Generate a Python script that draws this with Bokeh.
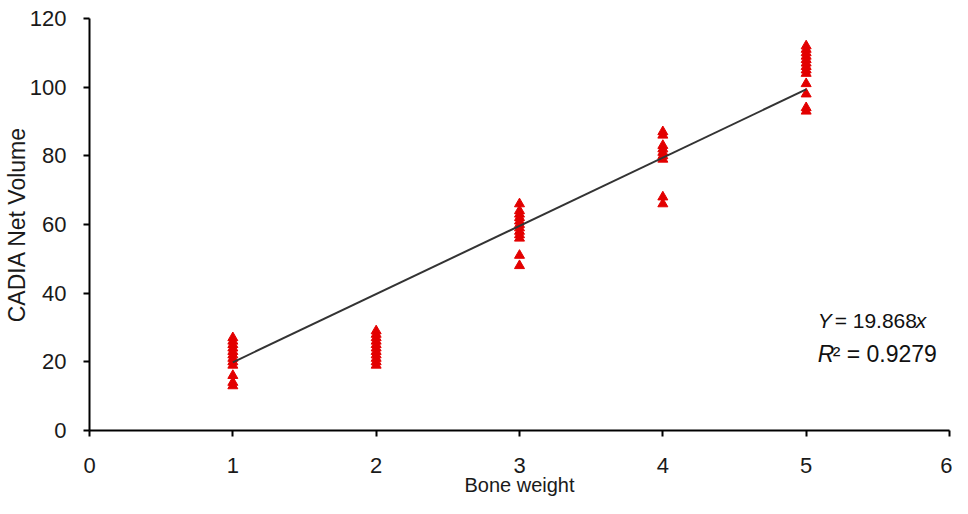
from bokeh.plotting import figure
from bokeh.models import Range1d, FixedTicker, Label, ColumnDataSource
from bokeh.embed import file_html
from bokeh.resources import INLINE

# ---- data ----
bone_weight_levels = [1, 2, 3, 4, 5]
volume_w1 = [27, 26, 25, 24, 23, 22, 21, 20, 19, 16, 14, 13]
volume_w2 = [29, 28, 27, 26, 25, 24, 23, 22, 21, 20, 19]
volume_w3 = [66, 64, 63, 62, 61, 60, 59, 58, 57, 56, 51, 48]
volume_w4 = [87, 86, 83, 82, 81, 80, 79, 68, 66]
volume_w5 = [112, 111, 110, 109, 108, 107, 106, 105, 104, 101, 98, 94, 93]
fit_slope = 19.868
fit_r2 = 0.9279
fit_x = [1, 5]
x_ticks = [0, 1, 2, 3, 4, 5, 6]
y_ticks = [0, 20, 40, 60, 80, 100, 120]
x_title = "Bone weight"
y_title = "CADIA Net Volume"

xs, ys = [], []
for w, vals in zip(bone_weight_levels, [volume_w1, volume_w2, volume_w3, volume_w4, volume_w5]):
    xs += [w] * len(vals)
    ys += vals
src = ColumnDataSource(dict(x=xs, y=ys))

FONT = "Liberation Sans"

p = figure(width=952, height=498, output_backend="svg", toolbar_location=None,
           x_range=Range1d(0, 6), y_range=Range1d(0, 120),
           min_border_left=88, min_border_right=3, min_border_top=18,
           min_border_bottom=68)
p.grid.visible = False
p.outline_line_color = None
p.background_fill_color = "white"
p.border_fill_color = "white"

p.scatter("x", "y", source=src, marker="triangle", size=10,
          fill_color="#e30000", line_color="#e30000")
p.line(fit_x, [fit_slope * v for v in fit_x], line_color="#333333", line_width=2)

for ax in (p.xaxis[0], p.yaxis[0]):
    ax.axis_line_color = "black"
    ax.axis_line_width = 2
    ax.major_tick_line_color = "black"
    ax.major_tick_line_width = 2
    ax.major_tick_in = 0
    ax.major_tick_out = 6
    ax.minor_tick_line_color = None
    ax.major_label_text_font = FONT
    ax.major_label_text_font_size = "22px"
    ax.major_label_text_color = "#1a1a1a"
    ax.axis_label_text_font = FONT
    ax.axis_label_text_font_style = "normal"
    ax.axis_label_text_color = "#1a1a1a"

p.xaxis.ticker = FixedTicker(ticks=x_ticks)
p.yaxis.ticker = FixedTicker(ticks=y_ticks)
p.xaxis.axis_label = x_title
p.yaxis.axis_label = y_title
p.xaxis.axis_label_text_font_size = "20px"
p.yaxis.axis_label_text_font_size = "23px"
p.xaxis.major_label_standoff = 21
p.xaxis.axis_label_standoff = -2
p.yaxis.major_label_standoff = 17
p.yaxis.axis_label_standoff = -3

# ---- equation annotation ----
ann_x = 5.08
line1_y = 32.0
line2_y = 22.4
common = dict(x=ann_x, text_font=FONT, text_baseline="middle", text_align="left",
              text_color="#111111")
p.add_layout(Label(y=line1_y, text="Y", text_font_style="italic",
                   text_font_size="21px", x_offset=0, **common))
p.add_layout(Label(y=line1_y, text="= " + f"{fit_slope:.3f}",
                   text_font_size="21px", x_offset=17, **common))
p.add_layout(Label(y=line1_y, text="x", text_font_style="italic",
                   text_font_size="21px", x_offset=98, **common))
p.add_layout(Label(y=line2_y, text="R", text_font_style="italic",
                   text_font_size="23px", x_offset=0, **common))
p.add_layout(Label(y=line2_y, text="\u00b2  = " + f"{fit_r2:.4f}",
                   text_font_size="23px", x_offset=15, **common))

open("out.html", "w").write(file_html(p, INLINE))
